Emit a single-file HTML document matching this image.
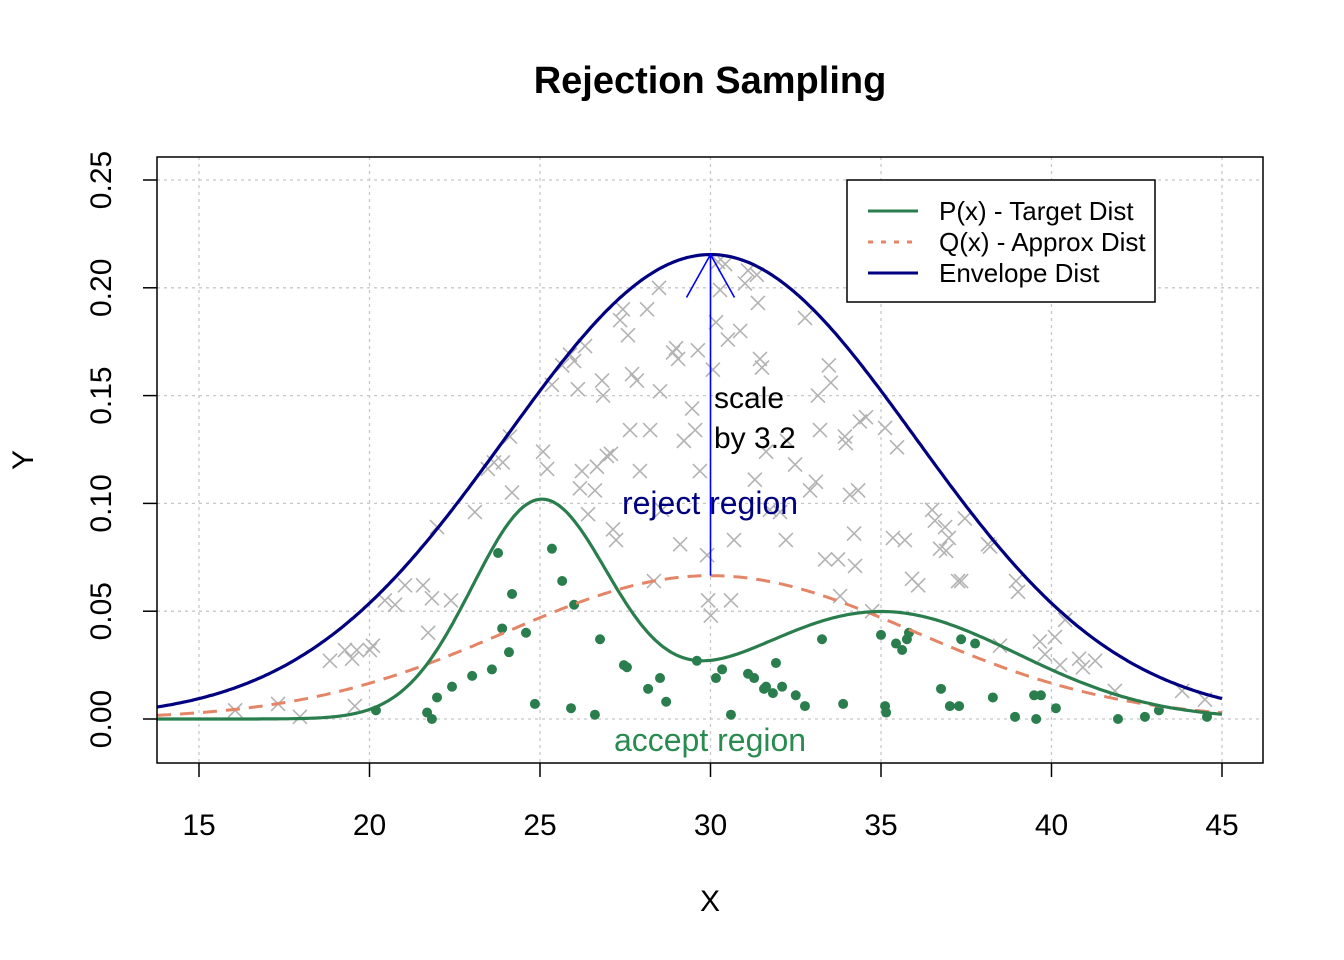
<!DOCTYPE html>
<html><head><meta charset="utf-8">
<style>
html,body{margin:0;padding:0;background:#fff;}
svg{display:block;font-family:"Liberation Sans",Arial,sans-serif;}
</style></head>
<body>
<svg id="chart" width="1344" height="960" viewBox="0 0 1344 960" xmlns="http://www.w3.org/2000/svg">
<text x="710" y="93" text-anchor="middle" font-size="38" font-weight="bold">Rejection Sampling</text>
<text x="710" y="911" text-anchor="middle" font-size="30">X</text>
<text x="33" y="460" text-anchor="middle" font-size="30" transform="rotate(-90 33 460)">Y</text>
<g id="grid"></g>
<g id="marks"></g>
<rect x="157" y="157" width="1106" height="606" fill="none" stroke="#000" stroke-width="1.5"/>
<g id="axes"></g>
<g>
<rect x="847" y="180" width="308" height="122" fill="#fff" stroke="#000" stroke-width="1.5"/>
<line x1="868" y1="211" x2="918" y2="211" stroke="#2a7d4c" stroke-width="3"/>
<text x="939" y="220" font-size="26">P(x) - Target Dist</text>
<line x1="868" y1="242" x2="918" y2="242" stroke="#e38566" stroke-width="3" stroke-dasharray="5,8"/>
<text x="939" y="251" font-size="26">Q(x) - Approx Dist</text>
<line x1="868" y1="273" x2="918" y2="273" stroke="#000080" stroke-width="3"/>
<text x="939" y="282" font-size="26">Envelope Dist</text>
</g>
</svg>
<script>
const xTicks=[15,20,25,30,35,40,45];
const yTicks=[0,0.05,0.10,0.15,0.20,0.25];
const yTickLabels=["0.00","0.05","0.10","0.15","0.20","0.25"];
// mixture params: [weight, mean, sd]
const targetComponents=[[0.5,25,2],[0.5,35,4]];
const approxParams=[30,6];
const envelopeScale=[3.24];
const acceptX=[20.19,21.69,21.83,21.98,22.42,23.01,23.59,23.77,23.89,24.09,24.18,24.59,24.85,25.35,25.65,25.91,26.0,26.61,26.76,27.46,27.55,28.17,28.52,28.7,29.6,30.16,30.34,30.6,31.1,31.28,31.57,31.63,31.83,31.92,32.1,32.5,32.77,33.27,33.89,35.0,35.12,35.15,35.44,35.62,35.76,35.82,36.76,37.02,37.29,37.35,37.76,38.28,38.93,39.49,39.55,39.69,40.13,41.95,42.74,43.15,44.56];
const acceptY=[0.004,0.003,0.000,0.010,0.015,0.020,0.023,0.077,0.042,0.031,0.058,0.040,0.007,0.079,0.064,0.005,0.053,0.002,0.037,0.025,0.024,0.014,0.019,0.008,0.027,0.019,0.023,0.002,0.021,0.019,0.014,0.015,0.012,0.026,0.015,0.011,0.006,0.037,0.007,0.039,0.006,0.003,0.035,0.032,0.037,0.040,0.014,0.006,0.006,0.037,0.035,0.010,0.001,0.011,0.000,0.011,0.005,0.000,0.001,0.004,0.001];
const rejectX=[16.06,17.32,17.96,18.84,19.28,19.49,19.63,20.01,20.1,19.57,20.45,20.75,21.04,21.57,21.72,21.83,21.98,22.39,23.09,23.47,23.65,23.91,24.12,24.18,25.09,25.21,25.35,25.65,25.88,26.0,26.11,26.23,26.17,26.32,26.41,26.61,26.67,26.82,26.85,26.96,27.08,27.14,27.23,27.35,27.43,27.58,27.64,27.7,27.84,27.93,28.14,28.23,28.34,28.49,28.52,28.58,28.9,28.99,29.05,29.11,29.22,29.46,29.55,29.63,29.69,29.9,29.93,30.01,30.07,30.16,30.22,30.28,30.43,30.51,30.6,30.69,30.87,31.01,31.1,31.3,31.36,31.39,31.45,31.51,31.63,31.74,32.04,32.21,32.24,32.48,32.77,32.92,33.09,33.15,33.21,33.36,33.47,33.53,33.74,33.8,33.94,33.97,34.09,34.21,34.24,34.33,34.38,34.56,34.74,35.12,35.35,35.47,35.7,35.91,36.09,36.5,36.58,36.73,36.88,36.91,36.99,37.26,37.35,37.46,38.14,38.2,38.96,39.02,39.66,39.81,40.1,40.4,40.81,40.92,41.28,41.86,43.83,44.5,40.25,38.49];
const rejectY=[0.004,0.007,0.001,0.027,0.032,0.028,0.032,0.032,0.034,0.006,0.055,0.053,0.062,0.062,0.040,0.056,0.089,0.055,0.096,0.116,0.119,0.119,0.131,0.105,0.124,0.116,0.155,0.164,0.169,0.166,0.153,0.115,0.107,0.173,0.095,0.106,0.117,0.157,0.150,0.122,0.123,0.088,0.083,0.185,0.190,0.178,0.134,0.160,0.157,0.115,0.190,0.134,0.064,0.200,0.152,0.097,0.170,0.172,0.167,0.081,0.129,0.144,0.134,0.171,0.115,0.076,0.055,0.048,0.162,0.184,0.212,0.199,0.211,0.176,0.055,0.083,0.180,0.202,0.208,0.111,0.206,0.193,0.167,0.163,0.124,0.097,0.096,0.083,0.129,0.118,0.186,0.106,0.110,0.150,0.134,0.074,0.164,0.156,0.074,0.057,0.131,0.128,0.104,0.086,0.071,0.106,0.138,0.140,0.050,0.135,0.084,0.126,0.083,0.065,0.062,0.097,0.092,0.079,0.089,0.078,0.084,0.064,0.064,0.093,0.081,0.080,0.064,0.059,0.036,0.030,0.038,0.046,0.028,0.024,0.027,0.013,0.013,0.009,0.025,0.034];

const NS="http://www.w3.org/2000/svg";
const xs=v=>199+(v-15)*(1023/30);
const ys=v=>719-v*(539/0.25);
const X0=13.77, X1=45;
function mk(tag,attrs,parent){const e=document.createElementNS(NS,tag);for(const k in attrs)e.setAttribute(k,attrs[k]);parent.appendChild(e);return e;}
const grid=document.getElementById('grid'),marks=document.getElementById('marks'),axes=document.getElementById('axes');
xTicks.forEach(t=>{
  const g=mk('line',{x1:xs(t),x2:xs(t),y1:157,y2:763,stroke:'#c8c8c8','stroke-width':1.3,'stroke-dasharray':'3,4'},grid);
  
  
  const tk=mk('line',{x1:xs(t),x2:xs(t),y1:763,y2:777,stroke:'#000','stroke-width':1.5},axes);
  
  
  const tl=mk('text',{x:xs(t),y:835,'text-anchor':'middle','font-size':30},axes);
  
  
  tl.textContent=t;
});
yTicks.forEach((t,i)=>{
  const g=mk('line',{x1:157,x2:1263,y1:ys(t),y2:ys(t),stroke:'#c8c8c8','stroke-width':1.3,'stroke-dasharray':'3,4'},grid);
  
  
  const tk=mk('line',{x1:143,x2:157,y1:ys(t),y2:ys(t),stroke:'#000','stroke-width':1.5},axes);
  
  
  const tl=mk('text',{x:111,y:ys(t),'text-anchor':'middle','font-size':30,transform:`rotate(-90 111 ${ys(t)})`},axes);
  
  
  tl.textContent=yTickLabels[i];
});
const dn=(x,m,s)=>Math.exp(-0.5*((x-m)/s)**2)/(s*Math.sqrt(2*Math.PI));
const P=x=>targetComponents.reduce((a,c)=>a+c[0]*dn(x,c[1],c[2]),0);
const Q=x=>dn(x,approxParams[0],approxParams[1]);
const E=x=>envelopeScale[0]*Q(x);
function curve(f){let d='';for(let i=0;i<=400;i++){const x=X0+(X1-X0)*i/400;d+=(i?'L':'M')+xs(x).toFixed(1)+','+ys(f(x)).toFixed(1);}return d;}
rejectX.forEach((x,i)=>{
  const cx=xs(x),cy=ys(rejectY[i]),r=7;
  const p=mk('path',{d:`M${cx-r},${cy-r}L${cx+r},${cy+r}M${cx-r},${cy+r}L${cx+r},${cy-r}`,stroke:'#b3b3b3','stroke-width':1.6,fill:'none'},marks);
  
  
});
acceptX.forEach((x,i)=>{
  const c=mk('circle',{cx:xs(x),cy:ys(acceptY[i]),r:5,fill:'#2a7d4c'},marks);
  
  
});
const qc=mk('path',{d:curve(Q),fill:'none',stroke:'#e38566','stroke-width':3,'stroke-dasharray':'14,9'},marks);


const pc=mk('path',{d:curve(P),fill:'none',stroke:'#2a7d4c','stroke-width':3.2},marks);


const ec=mk('path',{d:curve(E),fill:'none',stroke:'#000080','stroke-width':3.2},marks);


const am=approxParams[0],ax=xs(am),ay0=ys(Q(am)),ay1=ys(E(am));
const ar=mk('path',{d:`M${ax},${ay0}L${ax},${ay1}M${ax-24},${ay1+43}L${ax},${ay1}L${ax+24},${ay1+43}`,fill:'none',stroke:'#0000ff','stroke-width':1.6},marks);


const t1=mk('text',{x:714,y:408,'font-size':30},marks);


t1.textContent='scale';
const t2=mk('text',{x:714,y:448,'font-size':30},marks);


t2.textContent='by 3.2';
const t3=mk('text',{x:710,y:514,'font-size':32,'text-anchor':'middle',fill:'#000080'},marks);


t3.textContent='reject region';
const t4=mk('text',{x:710,y:751,'font-size':32,'text-anchor':'middle',fill:'#2a8b50'},marks);


t4.textContent='accept region';
</script>
</body></html>
